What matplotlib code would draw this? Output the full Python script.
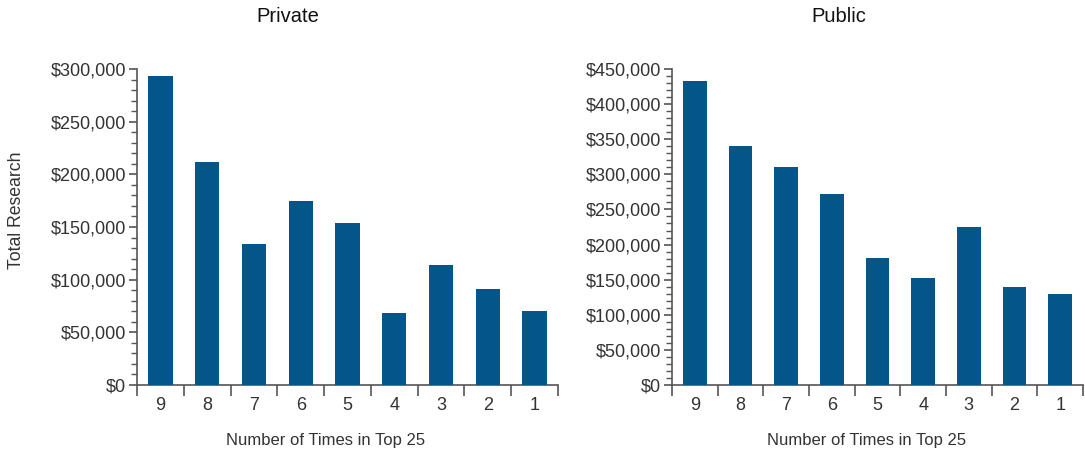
import matplotlib.pyplot as plt
import numpy as np
from matplotlib.ticker import FuncFormatter, MultipleLocator

plt.rcParams["font.family"] = ["Liberation Sans", "DejaVu Sans"]

BLUE = "#03558A"
INK = "#333333"

categories = ["9", "8", "7", "6", "5", "4", "3", "2", "1"]
private_vals = [293000, 212000, 134000, 175000, 154000, 68500, 114000, 91500, 70500]
public_vals = [433000, 340000, 310500, 272000, 181000, 152500, 225500, 140000, 130000]

W, H = 1085, 453
fig = plt.figure(figsize=(W / 100, H / 100), dpi=100)


def _axes(x0, x1, y0, y1):
    return fig.add_axes([x0 / W, 1 - y1 / H, (x1 - x0) / W, (y1 - y0) / H])


def _panel(ax, vals, ymax):
    x = np.arange(len(categories))
    ax.bar(x, vals, width=0.52, color=BLUE, zorder=3)
    ax.set_xlim(-0.5, len(categories) - 0.5)
    ax.set_ylim(0, ymax)
    for s in ("top", "right"):
        ax.spines[s].set_visible(False)
    for s in ("left", "bottom"):
        ax.spines[s].set_color("#555555")
        ax.spines[s].set_linewidth(1.2)
    # boundary ticks on the x axis, labels at band centres
    ax.set_xticks(np.arange(-0.5, len(categories)), minor=True)
    ax.set_xticks(x)
    ax.set_xticklabels(categories)
    ax.tick_params(axis="x", which="major", length=0, pad=9, labelsize=13, labelcolor=INK)
    ax.tick_params(axis="x", which="minor", length=8, width=1.2, color="#555555")
    ax.yaxis.set_major_locator(MultipleLocator(50000))
    ax.yaxis.set_minor_locator(MultipleLocator(10000))
    ax.yaxis.set_major_formatter(FuncFormatter(lambda v, _: f"${v:,.0f}"))
    ax.tick_params(axis="y", which="major", length=6, width=1.2, color="#555555",
                   labelsize=13, labelcolor=INK, pad=2)
    ax.tick_params(axis="y", which="minor", length=4, width=1, color="#555555")


ax1 = _axes(137, 558, 69, 385)
_panel(ax1, private_vals, 300000)
ax2 = _axes(672, 1083, 69, 385)
_panel(ax2, public_vals, 450000)

fig.text(288 / W, 1 - 17 / H, "Private", ha="center", va="center", fontsize=14.5, color="#111111")
fig.text(839 / W, 1 - 17 / H, "Public", ha="center", va="center", fontsize=14.5, color="#111111")
fig.text(326 / W, 1 - 440 / H, "Number of Times in Top 25", ha="center", va="center",
         fontsize=12, color=INK)
fig.text(867 / W, 1 - 440 / H, "Number of Times in Top 25", ha="center", va="center",
         fontsize=12, color=INK)
fig.text(17 / W, 1 - 210 / H, "Total Research", ha="center", va="center", rotation=90,
         fontsize=12.7, color=INK)

fig.savefig("out.png", dpi=100)
